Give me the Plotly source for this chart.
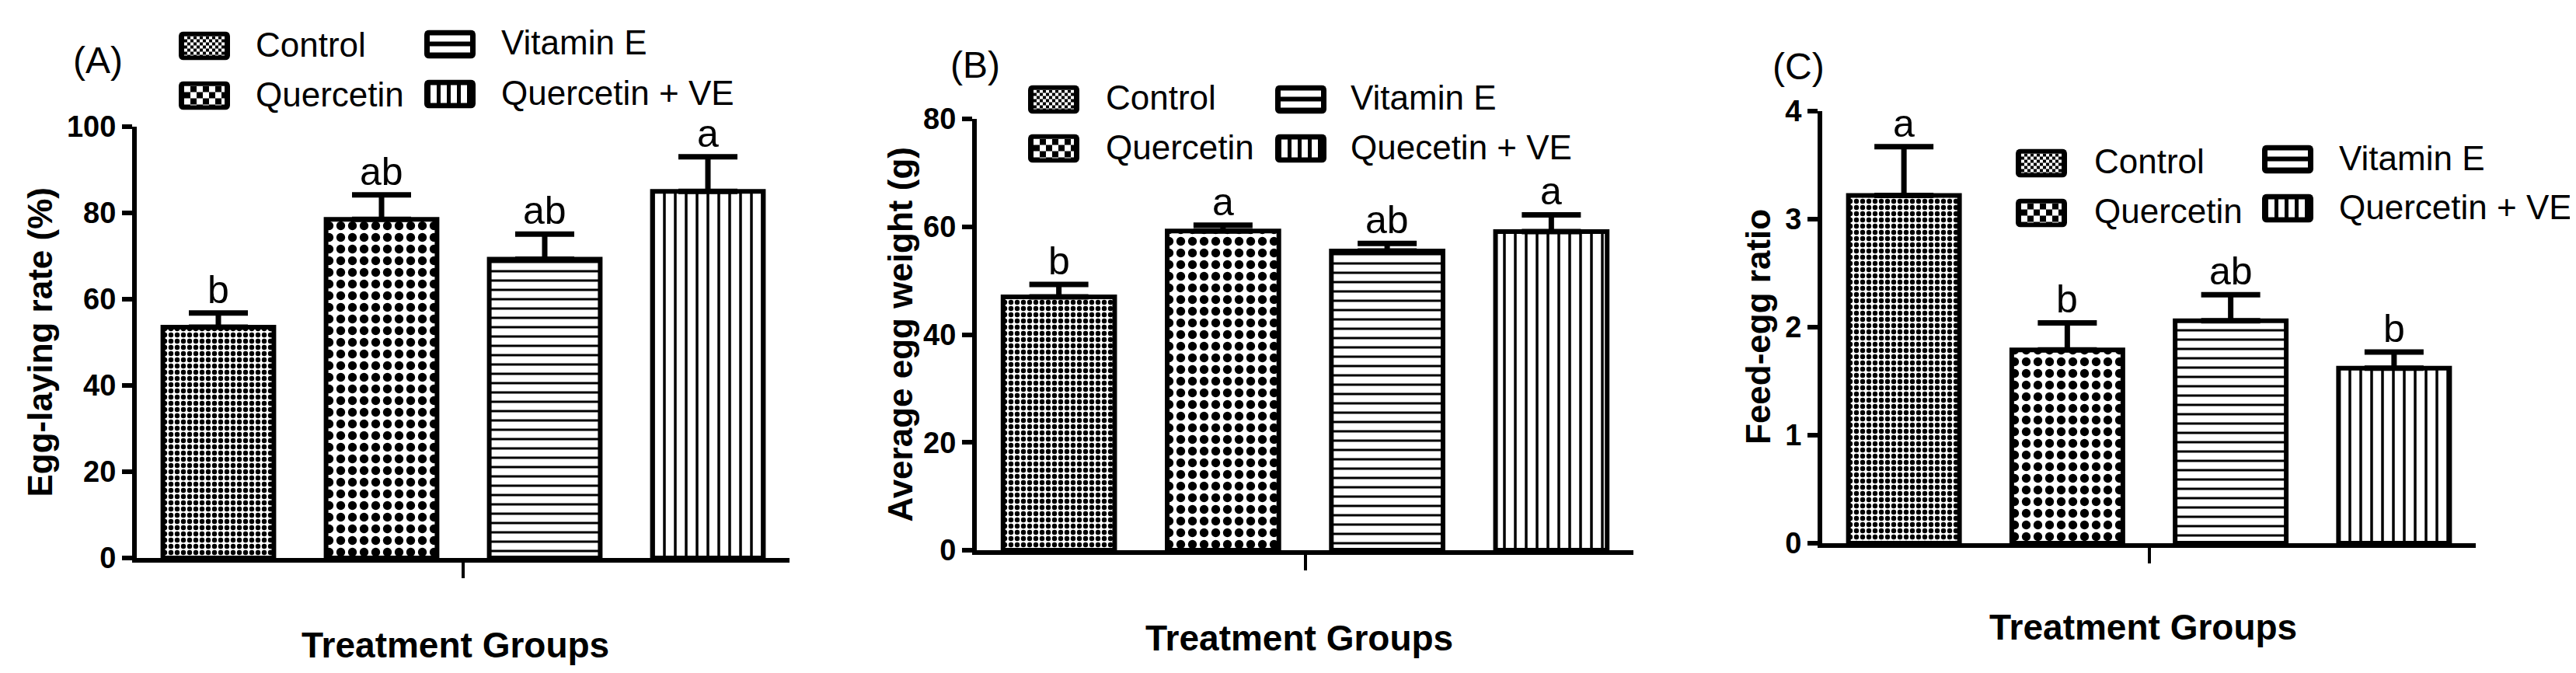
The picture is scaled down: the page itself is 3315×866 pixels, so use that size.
import base64
import plotly.graph_objects as go

# ---------------- data ----------------
groups = ["Control", "Quercetin", "Vitamin E", "Quercetin + VE"]
legend_names_a = ["Control", "Quercetin", "Vitamin E", "Quercetin + VE"]
legend_names_b = ["Control", "Quercetin", "Vitamin E", "Quecetin + VE"]
legend_names_c = ["Control", "Quercetin", "Vitamin E", "Quercetin + VE"]

laying_mean = [53.5, 78.5, 69.3, 85.0]
laying_err = [3.3, 5.7, 5.8, 8.0]
laying_sig = ["b", "ab", "ab", "a"]

weight_mean = [47.0, 59.2, 55.5, 59.1]
weight_err = [2.3, 1.1, 1.4, 3.1]
weight_sig = ["b", "a", "ab", "a"]

ratio_mean = [3.22, 1.79, 2.06, 1.62]
ratio_err = [0.45, 0.25, 0.24, 0.15]
ratio_sig = ["a", "b", "ab", "b"]

ytick_a = [0, 20, 40, 60, 80, 100]
ytick_b = [0, 20, 40, 60, 80]
ytick_c = [0, 1, 2, 3, 4]

panel_labels = ["(A)", "(B)", "(C)"]
y_titles = ["Egg-laying rate (%)", "Average egg weight (g)", "Feed-egg ratio"]
x_title = "Treatment Groups"

# ---------------- styles ----------------
W, H = 3315, 866
FONT = "Liberation Sans, Arial, sans-serif"
LW = 6

patterns = {
    "Control": dict(shape=".", size=8, solidity=0.5),
    "Quercetin": dict(shape=".", size=15, solidity=0.45),
    "Vitamin E": dict(shape="-", size=12, solidity=0.25),
    "Quercetin + VE": dict(shape="|", size=14, solidity=0.25),
}


def checker_svg(cell):
    return (
        '<svg xmlns="http://www.w3.org/2000/svg" width="66" height="37" viewBox="0 0 66 37">'
        f'<defs><pattern id="p" width="{2*cell}" height="{2*cell}" patternUnits="userSpaceOnUse" x="7" y="6">'
        f'<rect width="{2*cell}" height="{2*cell}" fill="black"/>'
        f'<rect width="{cell}" height="{cell}" fill="white"/>'
        f'<rect x="{cell}" y="{cell}" width="{cell}" height="{cell}" fill="white"/>'
        '</pattern></defs>'
        '<rect x="0" y="0" width="66" height="37" rx="6" fill="black"/>'
        '<rect x="7" y="6" width="52" height="25" fill="url(#p)"/>'
        '</svg>'
    )


def hstripe_svg():
    return (
        '<svg xmlns="http://www.w3.org/2000/svg" width="66" height="37" viewBox="0 0 66 37">'
        '<rect x="0" y="0" width="66" height="37" rx="6" fill="black"/>'
        '<rect x="7" y="7" width="52" height="8" fill="white"/>'
        '<rect x="7" y="21" width="52" height="8" fill="white"/>'
        '</svg>'
    )


def vstripe_svg():
    bars = "".join(f'<rect x="{x}" y="7" width="8" height="23" fill="white"/>' for x in (8, 21, 34, 47))
    return (
        '<svg xmlns="http://www.w3.org/2000/svg" width="66" height="37" viewBox="0 0 66 37">'
        '<rect x="0" y="0" width="66" height="37" rx="6" fill="black"/>'
        + bars + '</svg>'
    )


swatch_svgs = {
    "Control": checker_svg(4),
    "Quercetin": checker_svg(8),
    "Vitamin E": hstripe_svg(),
    "Quercetin + VE": vstripe_svg(),
}
swatch_src = {k: "data:image/svg+xml;base64," + base64.b64encode(v.encode()).decode()
              for k, v in swatch_svgs.items()}


def px_x(v):
    return v / W


def px_y(v):
    return 1 - v / H


# legend geometry per panel: swatch centre x per column, row centres per column, text x per column
panels = [
    dict(mean=laying_mean, err=laying_err, sig=laying_sig, names=legend_names_a, ticks=ytick_a,
         rng=[0, 100], xdom=[168, 1008], ydom=[710, 155],
         sw_x=(255, 571), rows=((51, 115), (49, 113)), tx=(319, 635),
         title_x=43, xt=(578, 822), lab=(118, 70)),
    dict(mean=weight_mean, err=weight_err, sig=weight_sig, names=legend_names_b, ticks=ytick_b,
         rng=[0, 80], xdom=[1249, 2094], ydom=[700, 145],
         sw_x=(1348, 1666), rows=((120, 183), (120, 183)), tx=(1413, 1728),
         title_x=1150, xt=(1664, 813), lab=(1247, 76)),
    dict(mean=ratio_mean, err=ratio_err, sig=ratio_sig, names=legend_names_c, ticks=ytick_c,
         rng=[0, 4], xdom=[2337, 3178], ydom=[691, 135],
         sw_x=(2619, 2936), rows=((202, 266), (197, 260)), tx=(2685, 3000),
         title_x=2254, xt=(2750, 799), lab=(2306, 77)),
]

# legend layout: column / row of each group
legend_slot = {"Control": (0, 0), "Quercetin": (0, 1), "Vitamin E": (1, 0), "Quercetin + VE": (1, 1)}

fig = go.Figure()
annotations = []
images = []
layout_extra = {}

for i, p in enumerate(panels):
    sfx = "" if i == 0 else str(i + 1)
    xa, ya = "x" + sfx, "y" + sfx
    for j, g in enumerate(groups):
        pat = patterns[g]
        fig.add_trace(go.Bar(
            x=[g], y=[p["mean"][j]], name=p["names"][j],
            xaxis=xa, yaxis=ya, width=0.68, showlegend=False,
            marker=dict(color="white",
                        line=dict(color="black", width=LW),
                        pattern=dict(shape=pat["shape"], size=pat["size"],
                                     solidity=pat["solidity"], fgcolor="black",
                                     bgcolor="white", fgopacity=1)),
            error_y=dict(type="data", array=[p["err"][j]], arrayminus=[0],
                         symmetric=False, color="black", thickness=7, width=38),
            hoverinfo="skip",
        ))
        annotations.append(dict(
            x=g, y=p["mean"][j] + p["err"][j], xref=xa, yref=ya,
            text=p["sig"][j], showarrow=False, yanchor="bottom", yshift=0,
            font=dict(family=FONT, size=50, color="black"),
        ))
        # legend entry: swatch image + text
        col, row = legend_slot[g]
        cy = p["rows"][col][row]
        images.append(dict(
            source=swatch_src[g], xref="paper", yref="paper",
            x=px_x(p["sw_x"][col]), y=px_y(cy), sizex=66 / W, sizey=37 / H,
            xanchor="center", yanchor="middle", sizing="stretch", layer="above",
        ))
        annotations.append(dict(
            x=px_x(p["tx"][col]), y=px_y(cy - 2), xref="paper", yref="paper",
            text=p["names"][j], showarrow=False, xanchor="left", yanchor="middle",
            font=dict(family=FONT, size=44, color="black"),
        ))
    # axes
    layout_extra["xaxis" + sfx] = dict(
        domain=[px_x(p["xdom"][0]), px_x(p["xdom"][1])],
        anchor=ya, type="category", categoryorder="array", categoryarray=groups,
        range=[-0.5, 3.5], showline=True, linecolor="black", linewidth=LW,
        tickmode="array", tickvals=[1.5], ticktext=[""], ticks="outside",
        ticklen=20, tickwidth=4, tickcolor="black", showgrid=False, zeroline=False,
        automargin=False,
    )
    layout_extra["yaxis" + sfx] = dict(
        domain=[px_y(p["ydom"][0]), px_y(p["ydom"][1])],
        anchor=xa, range=p["rng"], tickmode="array", tickvals=p["ticks"],
        showline=True, linecolor="black", linewidth=LW, ticks="outside",
        ticklen=13, tickwidth=6, tickcolor="black", showgrid=False, zeroline=False,
        tickfont=dict(family=FONT, size=38, color="black", weight="bold"),
        automargin=False,
    )
    # y title
    annotations.append(dict(
        x=px_x(p["title_x"]), y=0.5, xref="paper", yref=ya + " domain",
        text=f"<b>{y_titles[i]}</b>", textangle=-90, showarrow=False,
        xanchor="center", yanchor="middle",
        font=dict(family=FONT, size=44, color="black"),
    ))
    # x title
    annotations.append(dict(
        x=px_x(p["xt"][0]), y=px_y(p["xt"][1]), xref="paper", yref="paper",
        text=f"<b>{x_title}</b>", showarrow=False, xanchor="center", yanchor="middle",
        font=dict(family=FONT, size=46, color="black"),
    ))
    # panel label
    annotations.append(dict(
        x=px_x(p["lab"][0]), y=px_y(p["lab"][1]), xref="paper", yref="paper",
        text=panel_labels[i], showarrow=False, xanchor="center", yanchor="middle",
        font=dict(family=FONT, size=48, color="black"),
    ))

fig.update_layout(
    width=W, height=H, margin=dict(l=0, r=0, t=0, b=0),
    paper_bgcolor="white", plot_bgcolor="white",
    barmode="overlay", showlegend=False,
    annotations=annotations, images=images, **layout_extra,
)

fig.write_html("out.html")
